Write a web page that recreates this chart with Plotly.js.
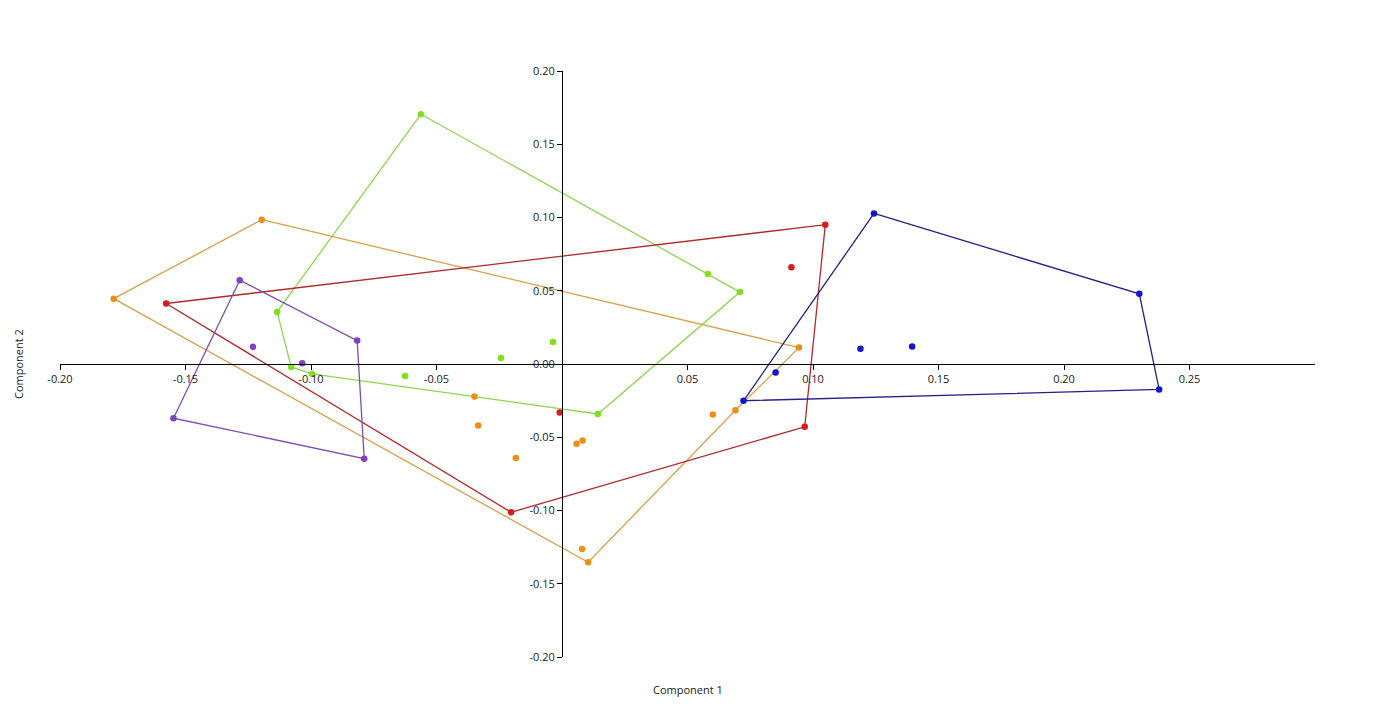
<!DOCTYPE html>
<html>
<head>
<meta charset="utf-8">
<script src="https://cdn.plot.ly/plotly-3.0.1.min.js"></script>
<style>
  html, body { margin: 0; padding: 0; background: #fff; }
  #chart { width: 1376px; height: 727px; }
</style>
</head>
<body>
<div id="chart"></div>
<script>
// ---- Data (Component 1, Component 2) ----
const greenX  = [-0.0562, 0.0581, 0.0709, 0.0143, -0.0996, -0.1079, -0.1135, -0.0625, -0.0243, -0.0036];
const greenY  = [ 0.1705, 0.0614, 0.0491, -0.0341, -0.0068, -0.0020, 0.0355, -0.0082, 0.0041, 0.0150];
const greenHull = [0, 1, 2, 3, 4, 5, 6, 0];

const orangeX = [-0.1196, 0.0944, 0.0691, 0.0104, -0.1786, 0.0601, -0.0349, -0.0334, -0.0184, 0.0058, 0.0082, 0.0080];
const orangeY = [ 0.0985, 0.0112, -0.0316, -0.1353, 0.0446, -0.0344, -0.0222, -0.0419, -0.0642, -0.0544, -0.0522, -0.1263];
const orangeHull = [0, 1, 2, 3, 4, 0];

const redX = [-0.1577, 0.1049, 0.0967, -0.0203, -0.0009, 0.0914];
const redY = [ 0.0413, 0.0951, -0.0429, -0.1012, -0.0331, 0.0660];
const redHull = [0, 1, 2, 3, 0];

const purpleX = [-0.1284, -0.0816, -0.0788, -0.1548, -0.1231, -0.1035];
const purpleY = [ 0.0572, 0.0160, -0.0646, -0.0370, 0.0117, 0.0005];
const purpleHull = [0, 1, 2, 3, 0];

const blueX = [0.1243, 0.2300, 0.2379, 0.0723, 0.0851, 0.1189, 0.1395];
const blueY = [0.1028, 0.0479, -0.0174, -0.0251, -0.0058, 0.0104, 0.0119];
const blueHull = [0, 1, 2, 3, 0];

const xTickVals = [-0.20, -0.15, -0.10, -0.05, 0.05, 0.10, 0.15, 0.20, 0.25];
const xTickText = ["-0.20", "-0.15", "-0.10", "-0.05", "0.05", "0.10", "0.15", "0.20", "0.25"];
const yTickVals = [-0.20, -0.15, -0.10, -0.05, 0.00, 0.05, 0.10, 0.15, 0.20];
const yTickText = ["-0.20", "-0.15", "-0.10", "-0.05", "0.00", "0.05", "0.10", "0.15", "0.20"];
const xTitle = "Component 1";
const yTitle = "Component 2";

// ---- Build traces ----
const groups = [
  {x: greenX,  y: greenY,  hull: greenHull,  marker: "#80DF1E", line: "#8ED64E"},
  {x: orangeX, y: orangeY, hull: orangeHull, marker: "#EE8E17", line: "#D9A04A"},
  {x: redX,    y: redY,    hull: redHull,    marker: "#D41C1C", line: "#B02828"},
  {x: purpleX, y: purpleY, hull: purpleHull, marker: "#8340C4", line: "#7E4CB4"},
  {x: blueX,   y: blueY,   hull: blueHull,   marker: "#1414CC", line: "#22228A"}
];

const traces = [];
groups.forEach(g => {
  traces.push({
    type: "scatter", mode: "lines",
    x: g.hull.map(i => g.x[i]), y: g.hull.map(i => g.y[i]),
    line: {color: g.line, width: 1.3},
    hoverinfo: "skip", showlegend: false
  });
});
groups.forEach(g => {
  traces.push({
    type: "scatter", mode: "markers",
    x: g.x, y: g.y,
    marker: {color: g.marker, size: 6.5},
    showlegend: false
  });
});

const fontFam = "Open Sans, Noto Sans, sans-serif";
const tickFont = {family: fontFam, size: 11, color: "#1a1a1a"};

const layout = {
  width: 1376, height: 727,
  paper_bgcolor: "#fff", plot_bgcolor: "#fff",
  margin: {l: 60, r: 61, t: 71, b: 70, pad: 0},
  showlegend: false,
  xaxis: {
    range: [-0.20, 0.30], anchor: "free", position: 0.5,
    showgrid: false, zeroline: false,
    showline: true, linecolor: "#000", linewidth: 1.2,
    ticks: "outside", ticklen: 5, tickwidth: 1, tickcolor: "#000",
    tickmode: "array", tickvals: xTickVals, ticktext: xTickText,
    tickfont: tickFont
  },
  yaxis: {
    range: [-0.20, 0.20], anchor: "free", position: 0.4,
    showgrid: false, zeroline: false,
    showline: true, linecolor: "#000", linewidth: 1.2,
    ticks: "outside", ticklen: 5, tickwidth: 1, tickcolor: "#000",
    tickmode: "array", tickvals: yTickVals, ticktext: yTickText,
    tickfont: tickFont
  },
  annotations: [
    {text: xTitle, xref: "paper", yref: "paper", x: 0.5004, y: -0.0563,
     xanchor: "center", yanchor: "middle",
     showarrow: false, font: {family: fontFam, size: 11, color: "#1a1a1a"}},
    {text: yTitle, xref: "paper", yref: "paper", x: -0.0335, y: 0.5, textangle: -90,
     xanchor: "center", yanchor: "middle",
     showarrow: false, font: {family: fontFam, size: 11, color: "#1a1a1a"}}
  ]
};

Plotly.newPlot("chart", traces, layout, {displayModeBar: false, staticPlot: true});
</script>
</body>
</html>
